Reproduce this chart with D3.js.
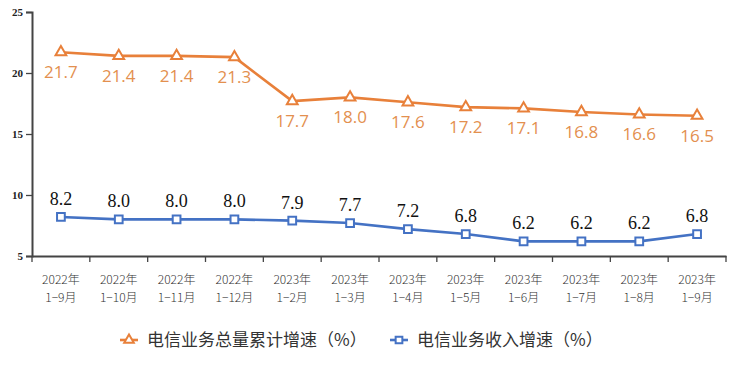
<!DOCTYPE html>
<html><head><meta charset="utf-8">
<script src="https://cdn.jsdelivr.net/npm/d3@7/dist/d3.min.js"></script>
<style>body{margin:0;background:#fff}svg{display:block}</style>
</head><body>
<script>
const catYears = ["2022年","2022年","2022年","2022年","2023年","2023年","2023年","2023年","2023年","2023年","2023年","2023年"];
const catMonths = ["1−9月","1−10月","1−11月","1−12月","1−2月","1−3月","1−4月","1−5月","1−6月","1−7月","1−8月","1−9月"];
const totalGrowth = [21.7,21.4,21.4,21.3,17.7,18.0,17.6,17.2,17.1,16.8,16.6,16.5];
const revenueGrowth = [8.2,8.0,8.0,8.0,7.9,7.7,7.2,6.8,6.2,6.2,6.2,6.8];
const yTicks = [5,10,15,20,25];
const seriesNames = ["电信业务总量累计增速（%）","电信业务收入增速（%）"];

const W=731,H=371;
const svg=d3.select("body").append("svg").attr("width",W).attr("height",H);
const idx=d3.range(catYears.length);
const x=d3.scaleBand().domain(idx).range([32,726]);
const y=d3.scaleLinear().domain([5,25]).range([256,12]);
const orange="#E8803A", orangeText="#E3904F", blue="#4472C4";

// y axis
const ya=svg.append("g").attr("transform","translate(32,0)")
  .call(d3.axisLeft(y).tickValues(yTicks).tickSize(6).tickFormat(d3.format("d")));
ya.select(".domain").attr("stroke","#444").attr("stroke-width",2);
ya.selectAll(".tick line").attr("stroke","#444").attr("stroke-width",1.3);
ya.selectAll(".tick text").attr("font-family","Liberation Serif").attr("font-weight","bold").attr("font-size",11).attr("fill","#222").attr("x",-9);

// x axis
const xa=svg.append("g").attr("transform","translate(0,256)")
  .call(d3.axisBottom(x).tickSize(0).tickFormat(""));
xa.select(".domain").attr("stroke","#444").attr("stroke-width",2);
xa.selectAll(".tick").remove();
svg.append("g").selectAll("line").data(d3.range(catYears.length+1)).join("line")
  .attr("x1",i=>32+i*x.step()).attr("x2",i=>32+i*x.step())
  .attr("y1",256).attr("y2",262).attr("stroke","#444").attr("stroke-width",1.3);
const lab=svg.append("g").selectAll("text").data(idx).join("text")
  .attr("x",i=>x(i)+x.bandwidth()/2).attr("text-anchor","middle")
  .attr("font-family","Noto Sans CJK SC").attr("font-weight",300).attr("font-size",12).attr("fill","#333");
lab.append("tspan").attr("x",i=>x(i)+x.bandwidth()/2).attr("y",284).text(i=>catYears[i]);
lab.append("tspan").attr("x",i=>x(i)+x.bandwidth()/2).attr("y",302).text(i=>catMonths[i]);

const cx=i=>x(i)+x.bandwidth()/2;
const line=d3.line().x((d,i)=>cx(i)).y(d=>y(d));

// orange
svg.append("path").datum(totalGrowth).attr("d",line).attr("fill","none").attr("stroke",orange).attr("stroke-width",2.6);
const tri=d3.symbol().type(d3.symbolTriangle).size(50);
svg.append("g").selectAll("path").data(totalGrowth).join("path")
  .attr("d",tri).attr("transform",(d,i)=>`translate(${cx(i)},${y(d)})`)
  .attr("fill","#fff").attr("stroke",orange).attr("stroke-width",2);
svg.append("g").selectAll("text").data(totalGrowth).join("text")
  .attr("x",(d,i)=>cx(i)).attr("y",d=>y(d)+26).attr("text-anchor","middle")
  .attr("font-family","Open Sans").attr("font-size",17).attr("fill",orangeText)
  .text(d=>d.toFixed(1));

// blue
svg.append("path").datum(revenueGrowth).attr("d",line).attr("fill","none").attr("stroke",blue).attr("stroke-width",2.6);
const sq=d3.symbol().type(d3.symbolSquare).size(60);
svg.append("g").selectAll("path").data(revenueGrowth).join("path")
  .attr("d",sq).attr("transform",(d,i)=>`translate(${cx(i)},${y(d)})`)
  .attr("fill","#fff").attr("stroke",blue).attr("stroke-width",2);
svg.append("g").selectAll("text").data(revenueGrowth).join("text")
  .attr("x",(d,i)=>cx(i)).attr("y",d=>y(d)-12).attr("text-anchor","middle")
  .attr("font-family","Liberation Serif").attr("font-size",18).attr("fill","#111")
  .text(d=>d.toFixed(1));

// legend
const leg=[{name:seriesNames[0],c:orange,tri:true,x:120},{name:seriesNames[1],c:blue,tri:false,x:390}];
const lg=svg.append("g").selectAll("g").data(leg).join("g").attr("transform",d=>`translate(${d.x},340)`);
lg.append("line").attr("x1",0).attr("x2",18).attr("stroke",d=>d.c).attr("stroke-width",2.6);
lg.append("path").attr("d",d=>d3.symbol().type(d.tri?d3.symbolTriangle:d3.symbolSquare).size(d.tri?40:45)())
  .attr("transform","translate(9,0)").attr("fill","#fff").attr("stroke",d=>d.c).attr("stroke-width",2);
lg.append("text").attr("x",27).attr("y",6).attr("font-family","Noto Sans CJK SC").attr("font-size",17).attr("fill","#333").text(d=>d.name);
</script>
</body></html>
